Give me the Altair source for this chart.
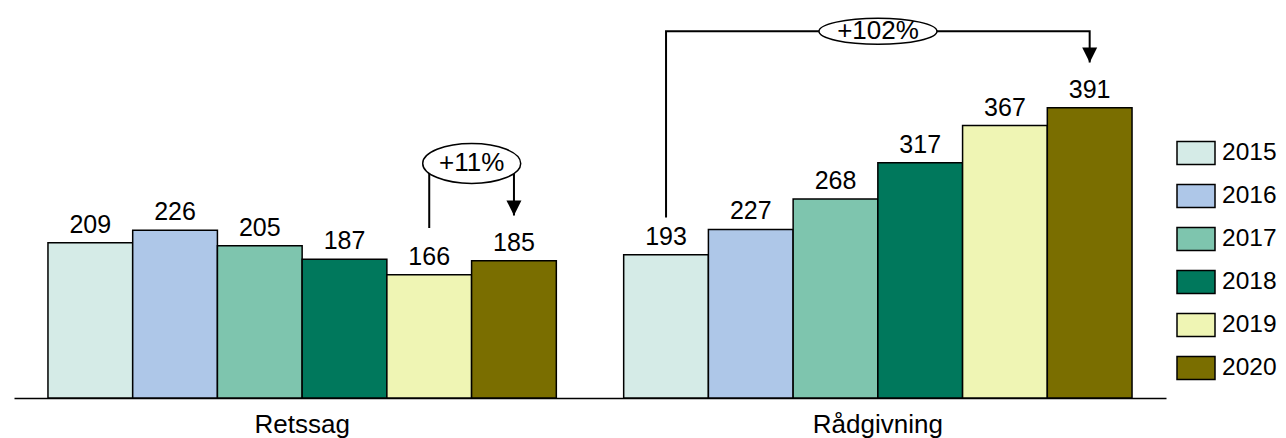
import altair as alt
import pandas as pd

FONT = "Liberation Sans"

groups = ["Retssag", "Rådgivning"]
years = ["2015", "2016", "2017", "2018", "2019", "2020"]
retssag = [209, 226, 205, 187, 166, 185]
raadgivning = [193, 227, 268, 317, 367, 391]
colors = ["#D5EBE7", "#AEC7E8", "#7EC5AE", "#00785C", "#EFF5B4", "#7A6E00"]

# annotations (change brackets)
ann_group = ["Retssag", "Rådgivning"]
ann_from = ["2019", "2015"]
ann_to = ["2020", "2020"]
ann_anchor = ["2019", "2017"]
ann_text = ["+11%", "+102%"]
ann_start = [229, 243]
ann_top = [316, 494]
ann_end = [246, 452]
ann_shape = [
    "M-0.133,0A1,0.408 0 1,1 1.867,0A1,0.408 0 1,1 -0.133,0Z",
    "M-0.28,0A1,0.22 0 1,1 1.72,0A1,0.22 0 1,1 -0.28,0Z",
]
ann_size = [9604, 13924]

rows = []
for g, vals in zip(groups, [retssag, raadgivning]):
    for y, v in zip(years, vals):
        rows.append({"group": g, "year": y, "value": v})
bars_df = pd.DataFrame(rows)

line_rows = []
for g, f, t, s, tp, e in zip(ann_group, ann_from, ann_to, ann_start, ann_top, ann_end):
    line_rows += [
        {"group": g, "year": f, "y": s, "o": 0},
        {"group": g, "year": f, "y": tp, "o": 1},
        {"group": g, "year": t, "y": tp, "o": 2},
        {"group": g, "year": t, "y": e, "o": 3},
    ]
lines_df = pd.DataFrame(line_rows)

ell_df = pd.DataFrame({
    "group": ann_group, "year": ann_anchor, "y": ann_top,
    "text": ann_text, "shape": ann_shape, "size": ann_size,
})
arrow_df = pd.DataFrame({"group": ann_group, "year": ann_to, "y": ann_end})

x_enc = alt.X(
    "group:N", sort=groups,
    scale=alt.Scale(domain=groups, paddingInner=0.117, paddingOuter=0.059),
    axis=alt.Axis(title=None, labelAngle=0, ticks=False, domainColor="black",
                  domainWidth=1.5, labelFontSize=26, labelColor="black",
                  labelFont=FONT, labelPadding=13),
)
xo_enc = alt.XOffset("year:N", sort=years,
                     scale=alt.Scale(domain=years, paddingInner=0, paddingOuter=0))
y_scale = alt.Scale(domain=[0, 520])

bars = alt.Chart(bars_df).mark_bar(stroke="black", strokeWidth=1.5).encode(
    x=x_enc, xOffset=xo_enc,
    y=alt.Y("value:Q", scale=y_scale, axis=None),
    color=alt.Color("year:N", sort=years,
                    scale=alt.Scale(domain=years, range=colors),
                    legend=alt.Legend(
                        title=None, orient="none", legendX=1162, legendY=121,
                        symbolType="M-1,-0.605L1,-0.605L1,0.605L-1,0.605Z",
                        symbolSize=1444, symbolStrokeColor="black",
                        symbolStrokeWidth=1.5, symbolOpacity=1,
                        labelFontSize=24.5, labelFont=FONT, labelColor="black",
                        labelOffset=6, rowPadding=8, padding=0)),
)

labels = alt.Chart(bars_df).mark_text(
    baseline="alphabetic", dy=-10, fontSize=25, font=FONT, color="black"
).encode(x=x_enc, xOffset=xo_enc, y=alt.Y("value:Q", scale=y_scale),
         text=alt.Text("value:Q"))

lines = alt.Chart(lines_df).mark_line(color="black", strokeWidth=2).encode(
    x=x_enc, xOffset=xo_enc, y=alt.Y("y:Q", scale=y_scale),
    order="o:Q", detail="group:N",
)

ellipses = alt.Chart(ell_df).mark_point(
    filled=True, fill="white", stroke="black", strokeWidth=1.5, opacity=1
).encode(
    x=x_enc, xOffset=xo_enc, y=alt.Y("y:Q", scale=y_scale),
    shape=alt.Shape("shape:N", scale=None),
    size=alt.Size("size:Q", scale=None),
)

ann_text_layer = alt.Chart(ell_df).mark_text(
    dx=42.5, baseline="middle", fontSize=26, font=FONT, color="black"
).encode(x=x_enc, xOffset=xo_enc, y=alt.Y("y:Q", scale=y_scale), text="text:N")

arrows = alt.Chart(arrow_df).mark_point(
    shape="M-1,-2L1,-2L0,0Z", size=225, filled=True, color="black", opacity=1
).encode(x=x_enc, xOffset=xo_enc, y=alt.Y("y:Q", scale=y_scale))

chart = alt.layer(bars, labels, lines, ellipses, ann_text_layer, arrows).properties(
    width=1152, height=386,
    padding={"left": 6, "top": 4, "right": 112, "bottom": 40},
    autosize=alt.AutoSizeParams(type="none"),
).configure_view(stroke=None)

chart.save("out.html", embed_options={"renderer": "svg", "actions": False})
